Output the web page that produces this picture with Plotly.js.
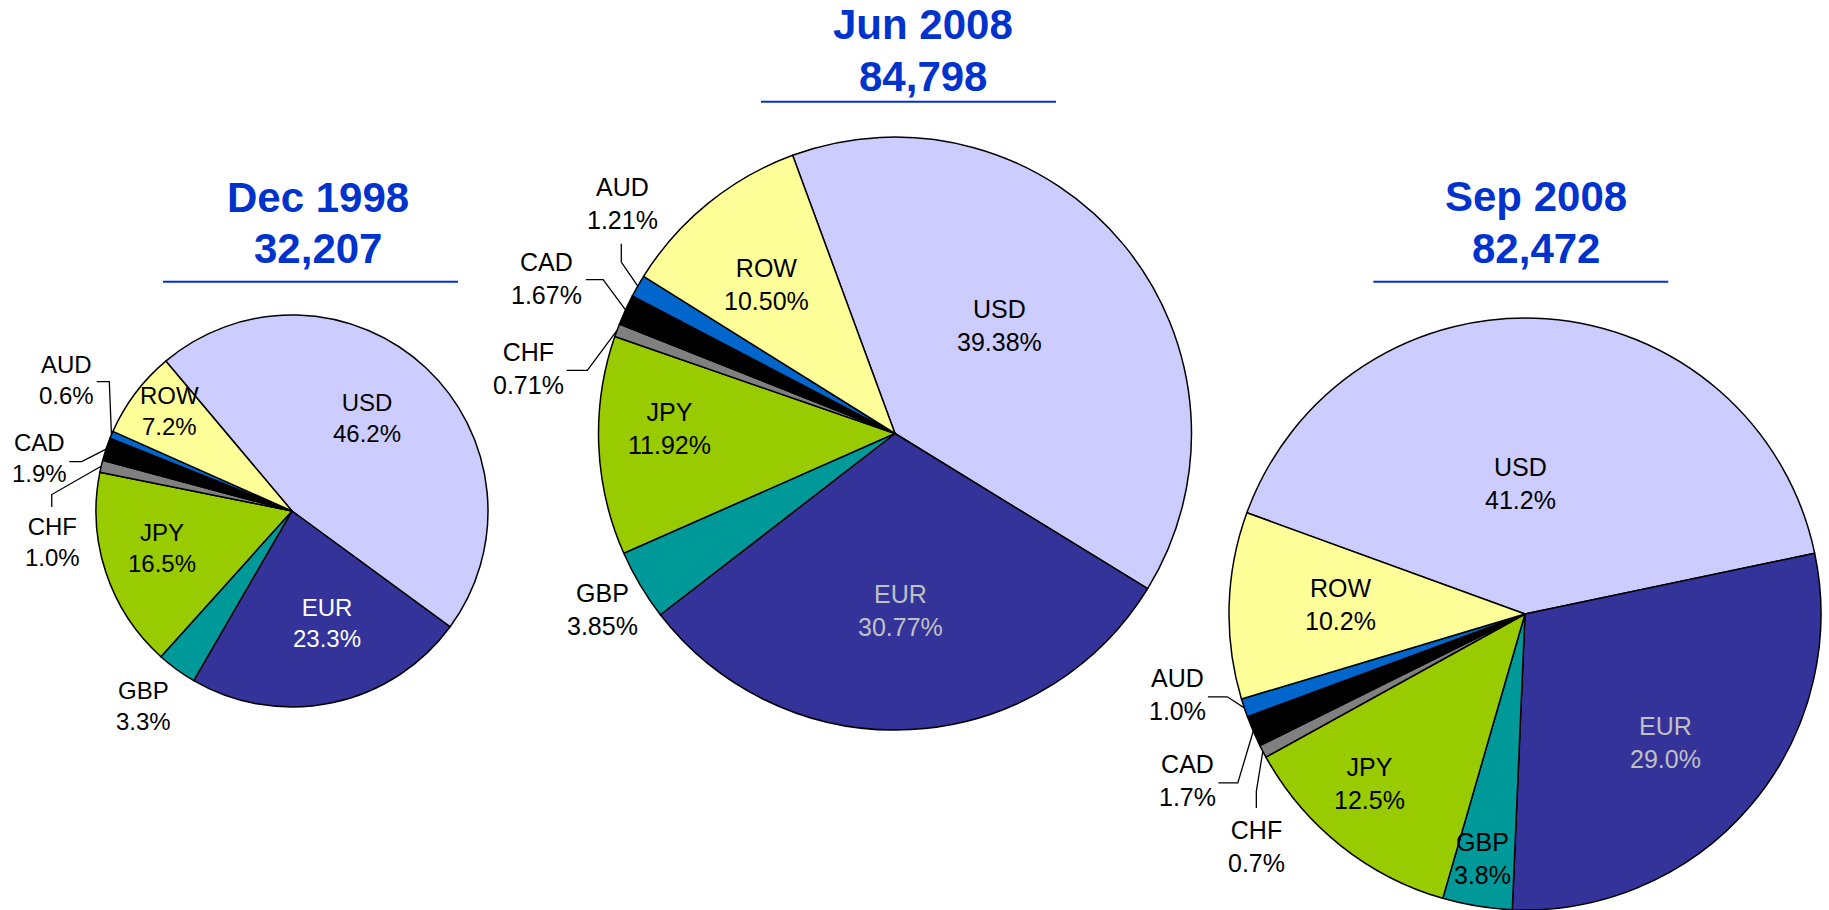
<!DOCTYPE html>
<html>
<head>
<meta charset="utf-8">
<script src="https://cdn.plot.ly/plotly-3.0.1.min.js"></script>
<style>
  html, body { margin: 0; padding: 0; background: #ffffff; }
  #chart { width: 1829px; height: 910px; }
</style>
</head>
<body>
<div id="chart"></div>
<script>
// ---------------- DATA ----------------
const currencies = ['USD', 'EUR', 'GBP', 'JPY', 'CHF', 'CAD', 'AUD', 'ROW'];
const dec1998 = [46.2, 23.3, 3.3, 16.5, 1.0, 1.9, 0.6, 7.2];
const jun2008 = [39.38, 30.77, 3.85, 11.92, 0.71, 1.67, 1.21, 10.50];
const sep2008 = [41.2, 29.0, 3.8, 12.5, 0.7, 1.7, 1.0, 10.2];
const periods = ['Dec 1998', 'Jun 2008', 'Sep 2008'];
const totals = ['32,207', '84,798', '82,472'];

// ---------------- STYLE / LAYOUT ----------------
const W = 1829, H = 910;
const sliceColors = ['#CCCCFF', '#333399', '#009999', '#99CC00', '#808080', '#000000', '#0066CC', '#FFFF99'];
const titleBlue = '#0033CC';
const FONT = 'Liberation Sans, Arial, Helvetica, sans-serif';

const pieCfg = [
  { values: dec1998, cx: 292, cy: 511, r: 196, rotation: -40.1, dec: 1, fs: 24, eurColor: '#FFFFFF',
    title: { x: 317.5, y1: 197, y2: 248.7 }, rule: { x0: 163, x1: 458, y: 281.7 },
    place: { USD: [0.61, -4.5], EUR: [0.60, -5.3], GBP: [1.25, 1.2], JPY: [0.69, 2.5],
             CHF: [1.233, -20.6], CAD: [1.314, -6.5], AUD: [1.33, 7.3], ROW: [0.805, 2.4] },
    leaders: { AUD: [30, 1.7, 12.6, 0], CAD: [29.3, 3.7, 12.4, 0], CHF: [-0.6, -35.3, 0, -12.4] } },
  { values: jun2008, cx: 895, cy: 433.5, r: 296.5, rotation: -20.2, dec: 2, fs: 25, eurColor: '#C0C0C0',
    title: { x: 923, y1: 24.7, y2: 76.1 }, rule: { x0: 761, x1: 1056, y: 101.7 },
    place: { USD: [0.508, -6.5], EUR: [0.596, 1.4], GBP: [1.15, -0.3], JPY: [0.762, 3.7],
             CHF: [1.257, -10.3], CAD: [1.287, -0.6], AUD: [1.202, 10.4], ROW: [0.662, -1.7] },
    leaders: { AUD: [-1.6, 40.3, 0, 18.4], CAD: [39.3, 1.5, 17.3, 0], CHF: [38.7, 2, 20.6, 0] } },
  { values: sep2008, cx: 1525, cy: 614, r: 296, rotation: -70, dec: 1, fs: 25, eurColor: '#C0C0C0',
    title: { x: 1535.5, y1: 196.4, y2: 248.7 }, rule: { x0: 1373.3, x1: 1668.3, y: 281.7 },
    place: { USD: [0.44, -6.1], EUR: [0.643, 2.1], GBP: [0.839, 0.6], JPY: [0.778, 4.0],
             CHF: [1.2, -13.2], CAD: [1.27, -2.9], AUD: [1.206, 5.4], ROW: [0.624, 1.4] },
    leaders: { AUD: [30.6, 2, 19.4, 0], CAD: [30.6, 2.7, 19.4, 0], CHF: [0, -38.3, 0, -16.7] } }
];

const px = x => x / W;
const py = y => 1 - y / H;
const rad = d => d * Math.PI / 180;

const traces = [];
const annotations = [];
const shapes = [];

pieCfg.forEach((p, k) => {
  traces.push({
    type: 'pie',
    values: p.values,
    labels: currencies,
    sort: false,
    direction: 'clockwise',
    rotation: p.rotation,
    textinfo: 'none',
    hoverinfo: 'label+percent',
    marker: { colors: sliceColors, line: { color: '#000000', width: 1.5 } },
    domain: { x: [px(p.cx - p.r), px(p.cx + p.r)], y: [(H - p.cy - p.r) / H, (H - p.cy + p.r) / H] }
  });

  const total = p.values.reduce((a, b) => a + b, 0);
  let cum = 0;
  p.values.forEach((v, i) => {
    const cur = currencies[i];
    const mid = p.rotation + (cum + v / 2) / total * 360;
    cum += v;
    const pl = p.place[cur];
    const a = mid + pl[1];
    const lx = p.cx + pl[0] * p.r * Math.sin(rad(a));
    const ly = p.cy - pl[0] * p.r * Math.cos(rad(a));
    annotations.push({
      xref: 'paper', yref: 'paper', x: px(lx), y: py(ly),
      xanchor: 'center', yanchor: 'middle', showarrow: false,
      text: cur + '<br>' + v.toFixed(p.dec) + '%',
      font: { family: FONT, size: p.fs, color: cur === 'EUR' ? p.eurColor : '#000000' }
    });
    const ld = p.leaders[cur];
    if (ld) {
      const sx = lx + ld[0], sy = ly + ld[1];
      const ex = sx + ld[2], ey = sy + ld[3];
      const tx = p.cx + p.r * Math.sin(rad(mid));
      const ty = p.cy - p.r * Math.cos(rad(mid));
      shapes.push({
        type: 'path', xref: 'paper', yref: 'paper',
        path: 'M ' + px(sx) + ',' + py(sy) + ' L ' + px(ex) + ',' + py(ey) + ' L ' + px(tx) + ',' + py(ty),
        line: { color: '#000000', width: 1.3 }
      });
    }
  });

  annotations.push({
    xref: 'paper', yref: 'paper', x: px(p.title.x), y: py(p.title.y1),
    xanchor: 'center', yanchor: 'middle', showarrow: false,
    text: '<b>' + periods[k] + '</b>', font: { family: FONT, size: 42, color: titleBlue }
  });
  annotations.push({
    xref: 'paper', yref: 'paper', x: px(p.title.x), y: py(p.title.y2),
    xanchor: 'center', yanchor: 'middle', showarrow: false,
    text: '<b>' + totals[k] + '</b>', font: { family: FONT, size: 42, color: titleBlue }
  });
  shapes.push({
    type: 'line', xref: 'paper', yref: 'paper',
    x0: px(p.rule.x0), x1: px(p.rule.x1), y0: py(p.rule.y), y1: py(p.rule.y),
    line: { color: titleBlue, width: 2 }
  });
});

const layout = {
  width: W, height: H,
  margin: { l: 0, r: 0, t: 0, b: 0 },
  paper_bgcolor: '#ffffff',
  showlegend: false,
  annotations: annotations,
  shapes: shapes,
  font: { family: FONT }
};

Plotly.newPlot('chart', traces, layout, { displayModeBar: false, staticPlot: true });
</script>
</body>
</html>
